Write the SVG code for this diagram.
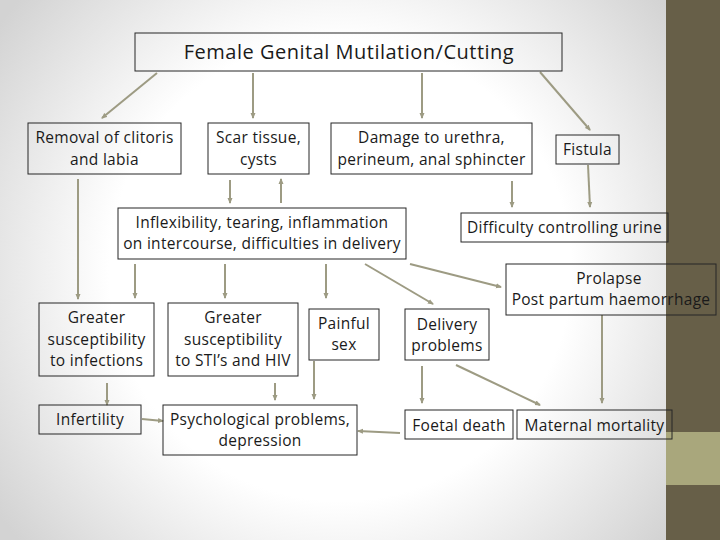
<svg xmlns="http://www.w3.org/2000/svg" width="720" height="540" viewBox="0 0 720 540">
<defs>
<radialGradient id="bg" cx="340" cy="270" r="420" gradientUnits="userSpaceOnUse">
<stop offset="0" stop-color="#ffffff"/>
<stop offset="0.55" stop-color="#ffffff"/>
<stop offset="1" stop-color="#d3d3d3"/>
</radialGradient>
<marker id="ah" viewBox="0 0 6 6" refX="5" refY="3" markerWidth="6" markerHeight="6" markerUnits="userSpaceOnUse" orient="auto">
<path d="M0,0.5 L6,3 L0,5.5 Z" fill="#9d9b83"/>
</marker>
<style>
.box{fill:none;stroke:#262626;stroke-width:1}
.t{font-family:"Open Sans","Liberation Sans",sans-serif;font-size:15.5px;letter-spacing:0.3px;fill:#1a1a1a;text-anchor:middle}
.title{font-size:20px;letter-spacing:0.5px}
.c line{stroke:#9d9b83;stroke-width:2;marker-end:url(#ah)}
</style>
</defs>
<rect x="0" y="0" width="720" height="540" fill="url(#bg)"/>
<rect x="666" y="0" width="54" height="540" fill="#675f48"/>
<rect x="666" y="432" width="54" height="53" fill="#a9a77c"/>

<g class="c" id="connectors">
<line x1="157" y1="73" x2="102" y2="118"/>
<line x1="253" y1="73" x2="253" y2="118"/>
<line x1="422" y1="73" x2="422" y2="118"/>
<line x1="540" y1="72" x2="590" y2="130"/>
<line x1="78" y1="179" x2="78" y2="299"/>
<line x1="230" y1="180" x2="230" y2="203"/>
<line x1="281" y1="203" x2="281" y2="179"/>
<line x1="512" y1="181" x2="512" y2="207"/>
<line x1="588" y1="165" x2="590" y2="207"/>
<line x1="135" y1="264" x2="135" y2="298"/>
<line x1="225" y1="264" x2="225" y2="298"/>
<line x1="326" y1="264" x2="326" y2="298"/>
<line x1="365" y1="264" x2="433" y2="304"/>
<line x1="410" y1="264" x2="501" y2="287"/>
<line x1="602" y1="315" x2="602" y2="403"/>
<line x1="422" y1="366" x2="422" y2="403"/>
<line x1="456" y1="365" x2="540" y2="405"/>
<line x1="400" y1="433" x2="358" y2="431"/>
<line x1="314" y1="361" x2="314" y2="399"/>
<line x1="275" y1="383" x2="275" y2="400"/>
<line x1="107" y1="383" x2="107" y2="405"/>
<line x1="142" y1="419" x2="163" y2="421"/>
</g>

<g id="n-fgm"><rect class="box" x="135" y="33" width="427" height="38"/><text class="t title" x="349" y="59">Female Genital Mutilation/Cutting</text></g>
<g id="n-removal"><rect class="box" x="28" y="123" width="153" height="51"/><text class="t" x="104.5" y="143">Removal of clitoris</text><text class="t" x="104.5" y="165">and labia</text></g>
<g id="n-scar"><rect class="box" x="208" y="123" width="101" height="51"/><text class="t" x="258.5" y="143">Scar tissue,</text><text class="t" x="258.5" y="165">cysts</text></g>
<g id="n-damage"><rect class="box" x="331" y="123" width="201" height="51"/><text class="t" x="431.5" y="143">Damage to urethra,</text><text class="t" x="431.5" y="165">perineum, anal sphincter</text></g>
<g id="n-fistula"><rect class="box" x="556" y="135" width="63" height="29"/><text class="t" x="587.5" y="155">Fistula</text></g>
<g id="n-inflex"><rect class="box" x="118" y="208" width="288" height="51"/><text class="t" x="262" y="228">Inflexibility, tearing, inflammation</text><text class="t" x="262" y="249">on intercourse, difficulties in delivery</text></g>
<g id="n-urine"><rect class="box" x="461" y="213" width="207" height="29"/><text class="t" x="564.5" y="233">Difficulty controlling urine</text></g>
<g id="n-prolapse"><rect class="box" x="506" y="264" width="210" height="51"/><text class="t" x="609" y="284">Prolapse</text><text class="t" x="611" y="305">Post partum haemorrhage</text></g>
<g id="n-infections"><rect class="box" x="39" y="303" width="115" height="73"/><text class="t" x="96.5" y="323">Greater</text><text class="t" x="96.5" y="345">susceptibility</text><text class="t" x="96.5" y="366">to infections</text></g>
<g id="n-sti"><rect class="box" x="168" y="303" width="130" height="73"/><text class="t" x="233" y="323">Greater</text><text class="t" x="233" y="345">susceptibility</text><text class="t" x="233" y="366">to STI’s and HIV</text></g>
<g id="n-painful"><rect class="box" x="309" y="309" width="70" height="51"/><text class="t" x="344" y="329">Painful</text><text class="t" x="344" y="350">sex</text></g>
<g id="n-delivery"><rect class="box" x="405" y="309" width="84" height="51"/><text class="t" x="447" y="330">Delivery</text><text class="t" x="447" y="351">problems</text></g>
<g id="n-infertility"><rect class="box" x="39" y="405" width="102" height="29"/><text class="t" x="90" y="425">Infertility</text></g>
<g id="n-psych"><rect class="box" x="163" y="405" width="194" height="50"/><text class="t" x="260" y="425">Psychological problems,</text><text class="t" x="260" y="446">depression</text></g>
<g id="n-foetal"><rect class="box" x="405" y="410" width="108" height="29"/><text class="t" x="459" y="431">Foetal death</text></g>
<g id="n-maternal"><rect class="box" x="517" y="410" width="155" height="29"/><text class="t" x="594.5" y="431">Maternal mortality</text></g>
</svg>
